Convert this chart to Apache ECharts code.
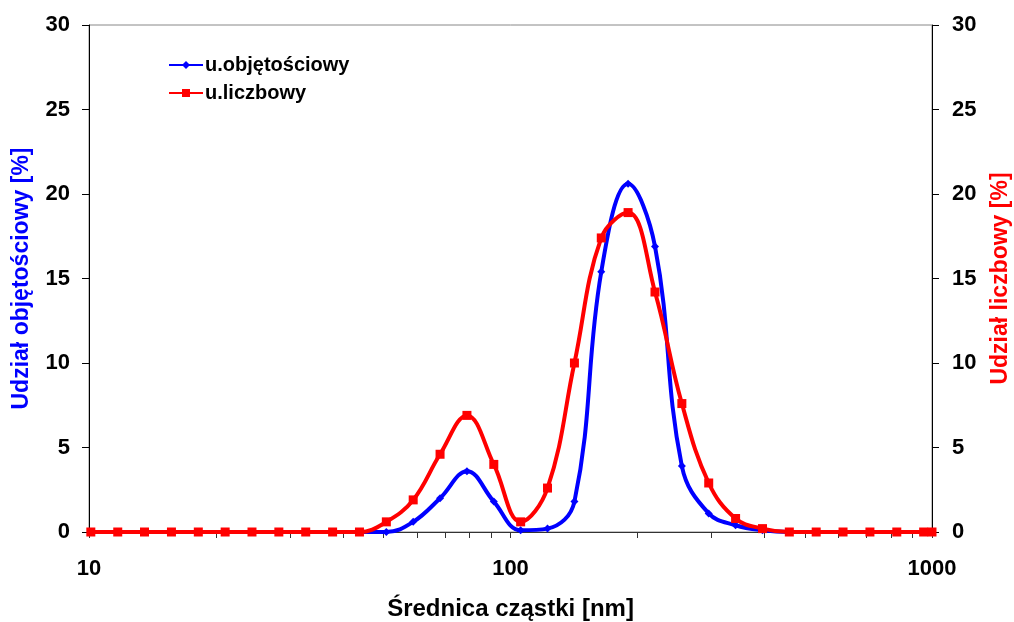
<!DOCTYPE html>
<html>
<head>
<meta charset="utf-8">
<script src="https://cdn.jsdelivr.net/npm/echarts@6/dist/echarts.min.js"></script>
<style>html,body{margin:0;padding:0;background:#fff}#c{width:1014px;height:622px}</style>
</head>
<body>
<div id="c"></div>
<script>
// Particle diameter bins [nm]
const sizes = [10.1, 11.7, 13.54, 15.69, 18.17, 21.04, 24.36, 28.21, 32.67, 37.84, 43.82, 50.75, 58.77, 68.06, 78.82, 91.28, 105.7, 122.4, 141.8, 164.2, 190.1, 220.2, 255.0, 295.3, 342.0, 396.1, 458.7, 531.2, 615.1, 712.4, 825.0, 955.4, 1000];
// Volume distribution [%]
const volumeShare = [0, 0, 0, 0, 0, 0, 0, 0, 0, 0, 0, 0.0, 0.6, 2.0, 3.6, 1.8, 0.1, 0.2, 1.8, 15.4, 20.6, 16.9, 3.9, 1.1, 0.4, 0.1, 0, 0, 0, 0, 0, 0, 0];
// Number distribution [%]
const numberShare = [0, 0, 0, 0, 0, 0, 0, 0, 0, 0, 0, 0.6, 1.9, 4.6, 6.9, 4.0, 0.6, 2.6, 10.0, 17.4, 18.9, 14.2, 7.6, 2.9, 0.8, 0.2, 0, 0, 0, 0, 0, 0, 0];
const xTickValues = [10, 20, 30, 40, 50, 60, 70, 80, 90, 100, 200, 300, 400, 500, 600, 700, 800, 900, 1000];
const seriesNames = ['u.objętościowy', 'u.liczbowy'];

const font = '"Liberation Sans", Arial, sans-serif';
const pairs = (ys) => sizes.map((x, i) => [x, ys[i]]);

const chart = echarts.init(document.getElementById('c'), null, {renderer: 'canvas'});
chart.setOption({
  animation: false,
  backgroundColor: '#fff',
  grid: {left: 89, right: 82, top: 25, bottom: 90, outerBoundsMode: 'none', containLabel: false,
    show: true, borderColor: '#888', borderWidth: 1, backgroundColor: 'transparent'},
  legend: {
    orient: 'vertical', left: 163, top: 50, itemGap: 8, itemWidth: 34, itemHeight: 10,
    data: seriesNames,
    textStyle: {fontFamily: font, fontWeight: 'bold', fontSize: 20, color: '#000', padding: [0, 0, 0, -3]}
  },
  xAxis: {
    type: 'log', logBase: 10, min: 10, max: 1000,
    name: 'Średnica cząstki [nm]', nameLocation: 'middle', nameGap: 65,
    nameTextStyle: {fontFamily: font, fontWeight: 'bold', fontSize: 24, color: '#000'},
    axisLine: {lineStyle: {color: '#333', width: 1}},
    axisTick: {show: true, inside: false, length: 6, lineStyle: {color: '#333'}, customValues: xTickValues},
    axisLabel: {fontFamily: font, fontWeight: 'bold', fontSize: 22, color: '#000', margin: 26,
      formatter: (v) => String(Math.round(v))},
    splitLine: {show: false}, minorTick: {show: false}
  },
  yAxis: [{
    type: 'value', min: 0, max: 30, interval: 5, position: 'left',
    name: 'Udział objętościowy [%]', nameLocation: 'middle', nameGap: 56, nameRotate: 90,
    nameTextStyle: {fontFamily: font, fontWeight: 'bold', fontSize: 23, color: '#0000FF'},
    axisLine: {show: true, lineStyle: {color: '#000', width: 1}},
    axisTick: {show: true, length: 7, lineStyle: {color: '#000'}},
    axisLabel: {fontFamily: font, fontWeight: 'bold', fontSize: 22, color: '#000', margin: 19, padding: [4, 0, 0, 0]},
    splitLine: {show: false}
  }, {
    type: 'value', min: 0, max: 30, interval: 5, position: 'right',
    name: 'Udział liczbowy [%]', nameLocation: 'middle', nameGap: 57, nameRotate: 90,
    nameTextStyle: {fontFamily: font, fontWeight: 'bold', fontSize: 23, color: '#FF0000'},
    axisLine: {show: true, lineStyle: {color: '#000', width: 1}},
    axisTick: {show: true, length: 7, lineStyle: {color: '#000'}},
    axisLabel: {fontFamily: font, fontWeight: 'bold', fontSize: 22, color: '#000', margin: 20, padding: [4, 0, 0, 0]},
    splitLine: {show: false}
  }],
  series: [{
    name: seriesNames[0], type: 'line', yAxisIndex: 0, smooth: 0.4,
    data: pairs(volumeShare),
    symbol: 'diamond', symbolSize: 8,
    lineStyle: {color: '#0000FF', width: 4},
    itemStyle: {color: '#0000FF'}, z: 2
  }, {
    name: seriesNames[1], type: 'line', yAxisIndex: 1, smooth: 0.4,
    data: pairs(numberShare),
    symbol: 'rect', symbolSize: 9,
    lineStyle: {color: '#FF0000', width: 4},
    itemStyle: {color: '#FF0000'}, z: 3
  }]
});
</script>
</body>
</html>
